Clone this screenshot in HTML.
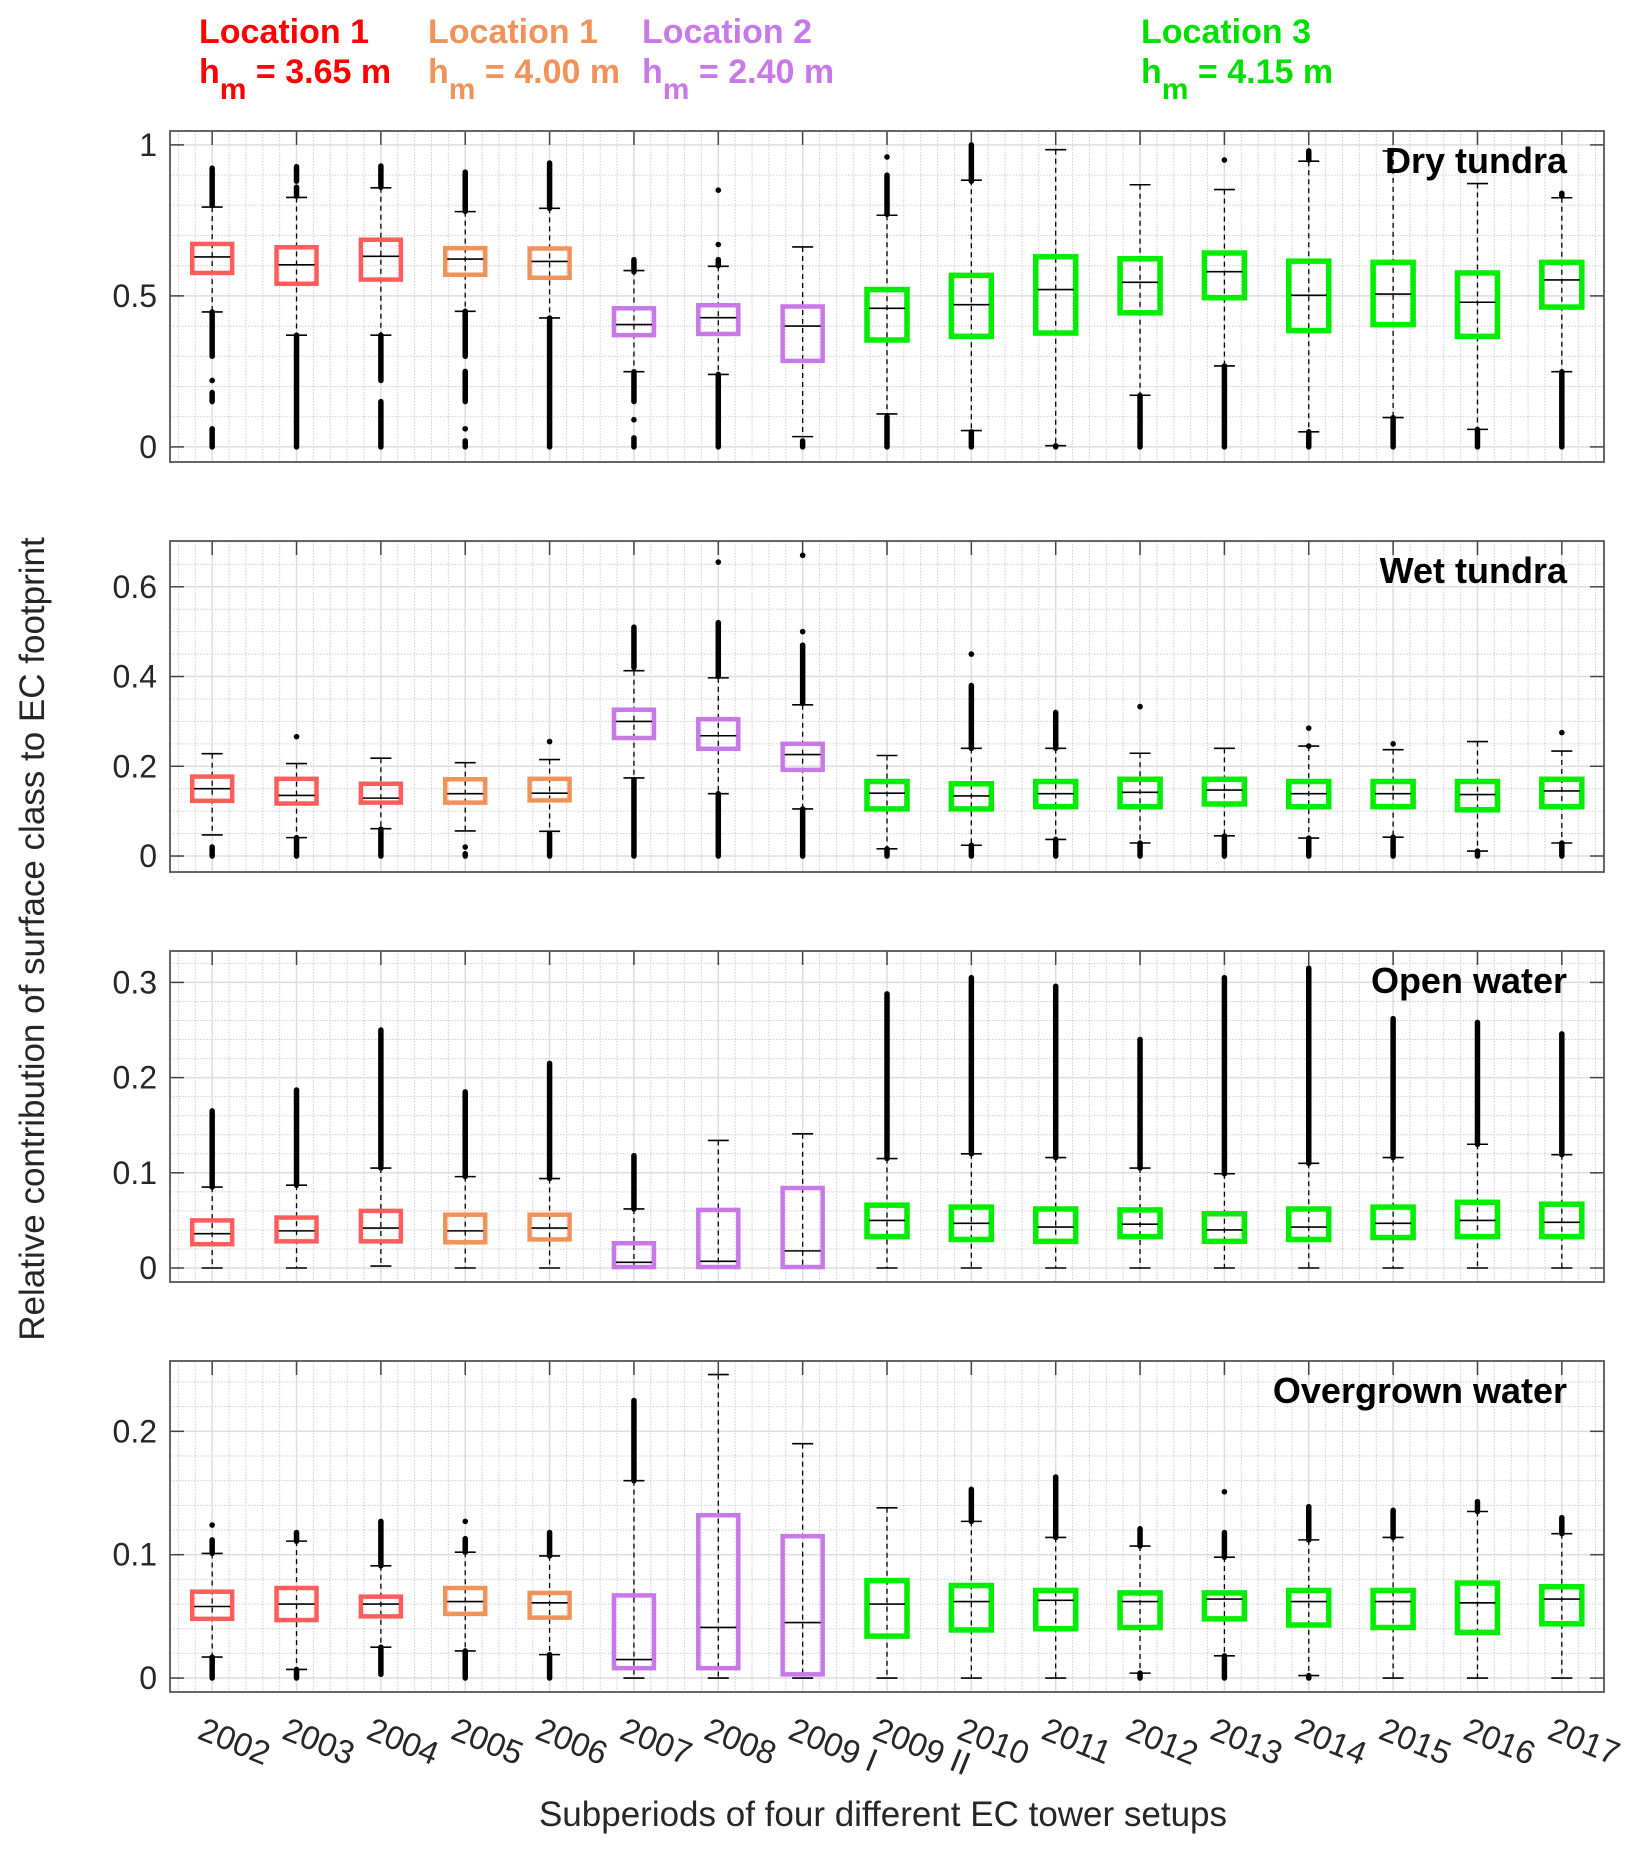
<!DOCTYPE html>
<html><head><meta charset="utf-8"><style>
html,body{margin:0;padding:0;background:#fff;}
svg{display:block;font-family:"Liberation Sans",Arial,sans-serif;}
</style></head><body>
<svg id="chart" width="1630" height="1850" viewBox="0 0 1630 1850" xmlns="http://www.w3.org/2000/svg">
<g font-weight="bold" font-size="34">
<text x="199" y="43" fill="#ff0000">Location 1</text>
<text x="199" y="83" fill="#ff0000">h<tspan dy="16" font-size="30">m</tspan><tspan dy="-16"> = 3.65 m</tspan></text>
<text x="428" y="43" fill="#f0935a">Location 1</text>
<text x="428" y="83" fill="#f0935a">h<tspan dy="16" font-size="30">m</tspan><tspan dy="-16"> = 4.00 m</tspan></text>
<text x="642" y="43" fill="#c879e8">Location 2</text>
<text x="642" y="83" fill="#c879e8">h<tspan dy="16" font-size="30">m</tspan><tspan dy="-16"> = 2.40 m</tspan></text>
<text x="1141" y="43" fill="#00e000">Location 3</text>
<text x="1141" y="83" fill="#00e000">h<tspan dy="16" font-size="30">m</tspan><tspan dy="-16"> = 4.15 m</tspan></text>
</g>
<text x="0" y="0" transform="translate(44,939) rotate(-90)" text-anchor="middle" font-size="35" fill="#262626">Relative contribution of surface class to EC footprint</text>
<text x="883" y="1826" text-anchor="middle" font-size="35" fill="#262626">Subperiods of four different EC tower setups</text>
</svg>
<script>
const categories = ["2002","2003","2004","2005","2006","2007","2008","2009 I","2009 II","2010","2011","2012","2013","2014","2015","2016","2017"];
const groupOf = [0,0,0,1,1,2,2,2,3,3,3,3,3,3,3,3,3];
const panelTitles = ["Dry tundra","Wet tundra","Open water","Overgrown water"];

// Dry tundra
const dryQ1  = [0.576,0.540,0.554,0.570,0.560,0.370,0.374,0.285,0.354,0.366,0.377,0.444,0.494,0.385,0.405,0.366,0.463];
const dryMed = [0.629,0.603,0.631,0.622,0.614,0.405,0.428,0.400,0.459,0.471,0.521,0.545,0.580,0.502,0.506,0.479,0.553];
const dryQ3  = [0.672,0.661,0.686,0.658,0.657,0.459,0.469,0.465,0.521,0.568,0.630,0.623,0.642,0.615,0.611,0.576,0.611];
const dryWLo = [0.447,0.370,0.370,0.449,0.427,0.249,0.240,0.034,0.109,0.054,0.004,0.171,0.268,0.050,0.097,0.058,0.249];
const dryWHi = [0.794,0.826,0.858,0.779,0.790,0.584,0.598,0.662,0.767,0.883,0.984,0.868,0.852,0.946,0.980,0.872,0.825];
const dryOut = [
 [[0.8,0.923],[0.3,0.447],[0.22,0.22],[0.15,0.18],[0,0.06]],
 [[0.83,0.86],[0.88,0.928],[0,0.37]],
 [[0.86,0.93],[0.22,0.37],[0,0.15]],
 [[0.78,0.91],[0.3,0.449],[0.15,0.25],[0.06,0.06],[0,0.02]],
 [[0.79,0.94],[0,0.427]],
 [[0.58,0.62],[0.15,0.249],[0.09,0.09],[0,0.03]],
 [[0.6,0.62],[0.67,0.67],[0.85,0.85],[0,0.24]],
 [[0,0.02]],
 [[0.77,0.9],[0.96,0.96],[0,0.1]],
 [[0.88,1.0],[0,0.05]],
 [[0,0.004]],
 [[0,0.17]],
 [[0.95,0.95],[0,0.268]],
 [[0.95,0.98],[0,0.05]],
 [[0,0.097]],
 [[0,0.058]],
 [[0.83,0.84],[0,0.249]]
];
// Wet tundra
const wetQ1  = [0.123,0.117,0.119,0.119,0.124,0.263,0.239,0.192,0.105,0.105,0.110,0.110,0.116,0.110,0.110,0.103,0.110];
const wetMed = [0.150,0.135,0.129,0.139,0.140,0.300,0.268,0.226,0.140,0.134,0.139,0.142,0.147,0.139,0.139,0.137,0.145];
const wetQ3  = [0.177,0.172,0.161,0.171,0.172,0.326,0.305,0.250,0.166,0.161,0.166,0.171,0.171,0.166,0.166,0.166,0.171];
const wetWLo = [0.047,0.041,0.061,0.056,0.055,0.174,0.139,0.105,0.016,0.024,0.037,0.029,0.045,0.040,0.042,0.011,0.029];
const wetWHi = [0.228,0.206,0.218,0.208,0.215,0.413,0.397,0.337,0.224,0.240,0.240,0.229,0.240,0.245,0.237,0.255,0.234];
const wetOut = [
 [[0,0.02]],
 [[0.266,0.266],[0,0.041]],
 [[0,0.06]],
 [[0.02,0.02],[0,0.005]],
 [[0.255,0.255],[0,0.05]],
 [[0.42,0.51],[0,0.17]],
 [[0.4,0.52],[0.655,0.655],[0,0.139]],
 [[0.34,0.47],[0.5,0.5],[0.67,0.67],[0,0.105]],
 [[0,0.016]],
 [[0.24,0.38],[0.45,0.45],[0,0.024]],
 [[0.24,0.32],[0,0.037]],
 [[0.333,0.333],[0,0.029]],
 [[0,0.045]],
 [[0.245,0.245],[0.285,0.285],[0,0.04]],
 [[0.25,0.25],[0,0.042]],
 [[0,0.011]],
 [[0.275,0.275],[0,0.029]]
];
// Open water
const owQ1  = [0.025,0.028,0.028,0.027,0.030,0.001,0.001,0.001,0.033,0.030,0.028,0.033,0.028,0.030,0.032,0.033,0.033];
const owMed = [0.036,0.039,0.042,0.039,0.042,0.006,0.007,0.018,0.050,0.047,0.043,0.046,0.040,0.043,0.047,0.050,0.048];
const owQ3  = [0.050,0.053,0.060,0.056,0.056,0.026,0.061,0.084,0.066,0.064,0.062,0.061,0.057,0.062,0.064,0.069,0.067];
const owWLo = [0,0,0.002,0,0,0,0,0,0,0,0,0,0,0,0,0,0];
const owWHi = [0.085,0.087,0.105,0.096,0.094,0.062,0.134,0.141,0.115,0.120,0.116,0.105,0.099,0.110,0.116,0.130,0.119];
const owOut = [
 [[0.085,0.165]],[[0.087,0.187]],[[0.105,0.25]],[[0.096,0.185]],[[0.094,0.215]],
 [[0.062,0.118]],[],[],
 [[0.115,0.288]],[[0.12,0.305]],[[0.116,0.296]],[[0.105,0.24]],[[0.099,0.305]],
 [[0.11,0.315]],[[0.116,0.262]],[[0.13,0.258]],[[0.119,0.246]]
];
// Overgrown water
const ogQ1  = [0.048,0.047,0.050,0.052,0.049,0.008,0.008,0.003,0.034,0.039,0.040,0.041,0.048,0.043,0.041,0.037,0.044];
const ogMed = [0.058,0.060,0.060,0.062,0.061,0.015,0.041,0.045,0.060,0.062,0.063,0.062,0.064,0.062,0.062,0.061,0.064];
const ogQ3  = [0.070,0.073,0.066,0.073,0.069,0.067,0.132,0.115,0.079,0.075,0.071,0.069,0.069,0.071,0.071,0.077,0.074];
const ogWLo = [0.017,0.007,0.025,0.022,0.019,0,0,0,0,0,0,0.004,0.018,0.002,0,0,0];
const ogWHi = [0.101,0.111,0.091,0.102,0.099,0.160,0.246,0.190,0.138,0.127,0.114,0.107,0.098,0.112,0.114,0.135,0.117];
const ogOut = [
 [[0.101,0.112],[0.124,0.124],[0,0.017]],
 [[0.111,0.118],[0,0.007]],
 [[0.091,0.127],[0.003,0.025]],
 [[0.102,0.113],[0.127,0.127],[0,0.022]],
 [[0.099,0.118],[0,0.019]],
 [[0.16,0.225]],[],[],[],
 [[0.127,0.153]],[[0.114,0.163]],[[0.107,0.121],[0,0.004]],
 [[0.098,0.118],[0.151,0.151],[0,0.018]],
 [[0.112,0.139],[0,0.002]],[[0.114,0.136]],[[0.135,0.143]],[[0.117,0.13]]
];
const dryTicks = [0,0.5,1];
const wetTicks = [0,0.2,0.4,0.6];
const owTicks = [0,0.1,0.2,0.3];
const ogTicks = [0,0.1,0.2];

const NS = "http://www.w3.org/2000/svg";
const svg = document.getElementById("chart");
const colors = ["#ff5c5c","#f0935a","#c879e8","#00ee00"];
const AX_L = 170, AX_R = 1604, PH = 331;
const panels = [
 {top:131, y0:-0.05, y1:1.046, minor:0.1, ticks:dryTicks, fmt:v=>String(v), q1:dryQ1, med:dryMed, q3:dryQ3, wlo:dryWLo, whi:dryWHi, out:dryOut},
 {top:541, y0:-0.0356, y1:0.702, minor:0.05, ticks:wetTicks, fmt:v=>v===0?"0":v.toFixed(1), q1:wetQ1, med:wetMed, q3:wetQ3, wlo:wetWLo, whi:wetWHi, out:wetOut},
 {top:951, y0:-0.0147, y1:0.333, minor:0.02, ticks:owTicks, fmt:v=>v===0?"0":v.toFixed(1), q1:owQ1, med:owMed, q3:owQ3, wlo:owWLo, whi:owWHi, out:owOut},
 {top:1361, y0:-0.0113, y1:0.257, minor:0.02, ticks:ogTicks, fmt:v=>v===0?"0":v.toFixed(1), q1:ogQ1, med:ogMed, q3:ogQ3, wlo:ogWLo, whi:ogWHi, out:ogOut}
];
function mk(tag, attrs, parent){
  const e = document.createElementNS(NS, tag);
  for (const k in attrs) e.setAttribute(k, attrs[k]);
  (parent||svg).appendChild(e);
  return e;
}
const step = (AX_R-AX_L)/categories.length;
function xScale(i){ return AX_L + (i+0.5)*step; }

panels.forEach((p, pi) => {
  const bot = p.top + PH;
  const y = v => bot - (v - p.y0)/(p.y1 - p.y0)*PH;
  const g = mk("g", {});
  
  
  for (let v = 0; v <= p.y1 + 1e-9; v += p.minor) {
    const yy = y(v);
    if (yy < p.top) continue;
    const l = mk("line", {x1:AX_L, x2:AX_R, y1:yy, y2:yy, stroke:"#cfcfcf", "stroke-width":1, "stroke-dasharray":"1.5,1.5"}, g);
    
    
  }
  for (let k = 0; k <= categories.length*5; k++) {
    const xx = AX_L + step*0.5 + (k-2)*step/5;
    if (xx <= AX_L || xx >= AX_R) continue;
    const l = mk("line", {x1:xx, x2:xx, y1:p.top, y2:bot, stroke:"#cfcfcf", "stroke-width":1, "stroke-dasharray":"1.5,1.5"}, g);
    
    
  }
  p.ticks.forEach(t => {
    const l = mk("line", {x1:AX_L, x2:AX_R, y1:y(t), y2:y(t), stroke:"#dedede", "stroke-width":1.5}, g);
    
    
    const tl = mk("line", {x1:AX_L, x2:AX_L+14, y1:y(t), y2:y(t), stroke:"#444", "stroke-width":1.5}, g);
    
    
    const tr = mk("line", {x1:AX_R-14, x2:AX_R, y1:y(t), y2:y(t), stroke:"#444", "stroke-width":1.5}, g);
    
    
    const tx = mk("text", {x:157, y:y(t)+11, "text-anchor":"end", "font-size":32, fill:"#262626"}, g);
    tx.textContent = p.fmt(t);
    
    
  });
  categories.forEach((c, i) => {
    const xx = xScale(i);
    const l = mk("line", {x1:xx, x2:xx, y1:p.top, y2:bot, stroke:"#dedede", "stroke-width":1.5}, g);
    
    
    const tk = mk("line", {x1:xx, x2:xx, y1:p.top, y2:p.top+14, stroke:"#444", "stroke-width":1.5}, g);
    
    
  });
  categories.forEach((c, i) => {
    const xx = xScale(i);
    const bg = mk("g", {}, g);
    
    
    const w = mk("line", {x1:xx, x2:xx, y1:y(p.whi[i]), y2:y(p.wlo[i]), stroke:"#000", "stroke-width":1.3, "stroke-dasharray":"5,4"}, bg);
    
    
    [p.whi[i], p.wlo[i]].forEach(v => {
      const cap = mk("line", {x1:xx-10.5, x2:xx+10.5, y1:y(v), y2:y(v), stroke:"#000", "stroke-width":1.6}, bg);
      
      
    });
    p.out[i].forEach(s => {
      if (Math.abs(s[1]-s[0]) < 1e-9) {
        const d = mk("circle", {cx:xx, cy:y(s[0]), r:2.8, fill:"#000"}, bg);
        
        
      } else {
        const d = mk("line", {x1:xx, x2:xx, y1:y(s[1]), y2:y(s[0]), stroke:"#000", "stroke-width":5.5, "stroke-linecap":"round"}, bg);
        
        
      }
    });
    const bw = 40;
    const r = mk("rect", {x:xx-bw/2, y:y(p.q3[i]), width:bw, height:Math.max(1, y(p.q1[i])-y(p.q3[i])), fill:"none", stroke:colors[groupOf[i]], "stroke-width":groupOf[i]===3?5.5:4.5}, bg);
    
    
    const m = mk("line", {x1:xx-bw/2+2, x2:xx+bw/2-2, y1:y(p.med[i]), y2:y(p.med[i]), stroke:"#000", "stroke-width":1.6}, bg);
    
    
  });
  const fr = mk("rect", {x:AX_L, y:p.top, width:AX_R-AX_L, height:PH, fill:"none", stroke:"#555", "stroke-width":1.8}, g);
  
  
  const tt = mk("text", {x:1567, y:p.top+42, "text-anchor":"end", "font-size":36, "font-weight":"bold", fill:"#000"}, g);
  tt.textContent = panelTitles[pi];
  
  
});
categories.forEach((c, i) => {
  const xx = xScale(i);
  const t = mk("text", {transform:"translate(" + (xx-16) + ",1738) rotate(22)", "font-size":33, fill:"#262626"});
  t.textContent = c;
  
  
});
</script>
</body></html>
